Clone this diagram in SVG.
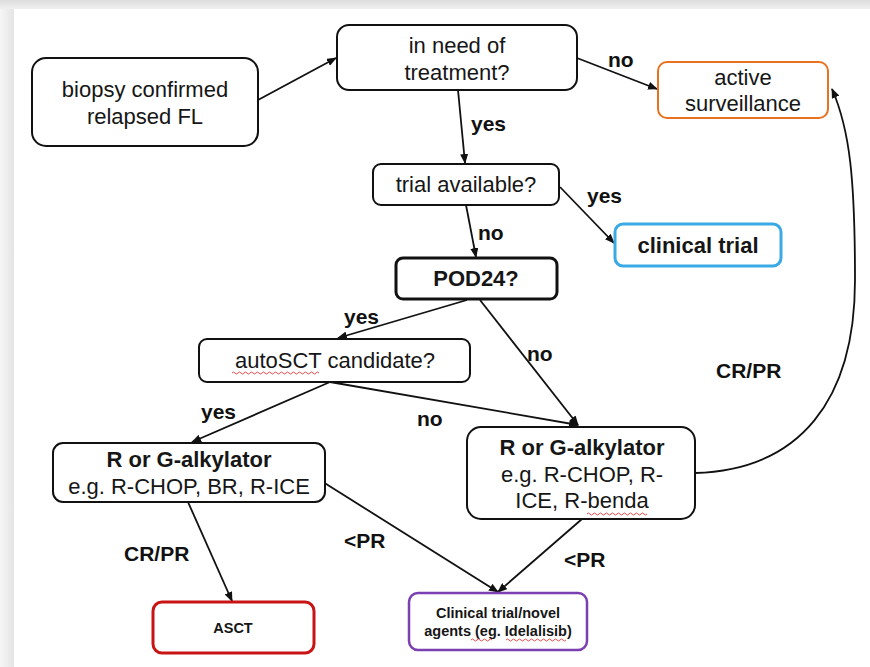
<svg xmlns="http://www.w3.org/2000/svg" width="870" height="667" viewBox="0 0 870 667">
  <defs>
    <linearGradient id="topShade" x1="0" y1="0" x2="0" y2="1">
      <stop offset="0" stop-color="#dcdcdc"/>
      <stop offset="1" stop-color="#f0f0f0"/>
    </linearGradient>
    <linearGradient id="leftShade" x1="0" y1="0" x2="1" y2="0">
      <stop offset="0" stop-color="#f6f6f6"/>
      <stop offset="1" stop-color="#e4e4e4"/>
    </linearGradient>
    <marker id="arrow" markerUnits="userSpaceOnUse" markerWidth="10" markerHeight="8" refX="9" refY="4" orient="auto">
      <path d="M0,0 L10,4 L0,8 Z" fill="#111"/>
    </marker>
    <style>
      .box { fill: #fff; stroke: #111; stroke-width: 2; }
      .t { font-family: "Liberation Sans", Arial, sans-serif; font-size: 22px; fill: #161616; text-anchor: middle; }
      .b { font-weight: bold; }
      .lbl { font-family: "Liberation Sans", Arial, sans-serif; font-size: 21px; font-weight: bold; fill: #111; }
      .small { font-size: 14.5px; }
      .edge { fill: none; stroke: #111; stroke-width: 1.8; marker-end: url(#arrow); }
      .line { fill: none; stroke: #111; stroke-width: 1.8; }
      .squiggle { fill: none; stroke: #e03a3a; stroke-width: 0.9; }
    </style>
  </defs>

  <!-- page background with soft shadow edges -->
  <rect x="0" y="0" width="870" height="667" fill="#f2f2f2"/>
  <rect x="0" y="0" width="870" height="9" fill="url(#topShade)"/>
  <rect x="0" y="9" width="14" height="658" fill="url(#leftShade)"/>
  <rect x="14" y="9" width="856" height="658" fill="#fff"/>

  <!-- connectors -->
  <g id="connectors">
    <path class="edge" d="M258,100 L336,58"/>
    <path class="edge" d="M577,58 L657,89"/>
    <path class="edge" d="M458,90 L465,163"/>
    <path class="edge" d="M560,187 L614,243"/>
    <path class="edge" d="M466,205 L476,257"/>
    <path class="edge" d="M467,300 L338,338"/>
    <path class="edge" d="M480,300 L578,425"/>
    <path class="edge" d="M330,382 L192,442"/>
    <path class="edge" d="M330,382 L578,425"/>
    <path class="edge" d="M188,502 L232,601"/>
    <path class="edge" d="M323,482 L498,592"/>
    <path class="edge" d="M582,519 L498,592"/>
    <path class="edge" d="M695,473 C800,470 855,400 855,280 C855,180 850,130 832,89"/>
  </g>

  <!-- connector labels -->
  <g id="edge-labels">
    <text class="lbl" x="608" y="67">no</text>
    <text class="lbl" x="471" y="131">yes</text>
    <text class="lbl" x="587" y="203">yes</text>
    <text class="lbl" x="478" y="240">no</text>
    <text class="lbl" x="344" y="324">yes</text>
    <text class="lbl" x="527" y="361">no</text>
    <text class="lbl" x="201" y="419">yes</text>
    <text class="lbl" x="417" y="426">no</text>
    <text class="lbl" x="716" y="378">CR/PR</text>
    <text class="lbl" x="124" y="561">CR/PR</text>
    <text class="lbl" x="344" y="548">&lt;PR</text>
    <text class="lbl" x="564" y="567">&lt;PR</text>
  </g>

  <g id="biopsy">
    <rect class="box" x="32" y="58" width="226" height="88" rx="14"/>
    <text class="t" x="145" y="97">biopsy confirmed</text>
    <text class="t" x="145" y="124">relapsed FL</text>
  </g>

  <g id="need-treatment">
    <rect class="box" x="337" y="25" width="240" height="65" rx="12"/>
    <text class="t" x="457" y="53">in need of</text>
    <text class="t" x="457" y="80">treatment?</text>
  </g>

  <g id="active-surveillance">
    <rect class="box" x="658" y="62" width="170" height="56" rx="9" style="stroke:#e8721e"/>
    <text class="t" x="743" y="85">active</text>
    <text class="t" x="743" y="111">surveillance</text>
  </g>

  <g id="trial-available">
    <rect class="box" x="373" y="164" width="186" height="41" rx="8"/>
    <text class="t" x="466" y="192">trial available?</text>
  </g>

  <g id="clinical-trial">
    <rect class="box" x="615" y="224" width="166" height="42" rx="8" style="stroke:#3aaae6;stroke-width:3"/>
    <text class="t b" x="698" y="253">clinical trial</text>
  </g>

  <g id="pod24">
    <rect class="box" x="396" y="258" width="161" height="41" rx="7" style="stroke-width:3"/>
    <text class="t b" x="476" y="286">POD24?</text>
  </g>

  <g id="autosct-candidate">
    <rect class="box" x="199" y="339" width="271" height="43" rx="8"/>
    <text class="t" x="335" y="368">autoSCT candidate?</text>
    <path class="squiggle" d="M232,373 q1.5,-2 3,0 t3,0 t3,0 t3,0 t3,0 t3,0 t3,0 t3,0 t3,0 t3,0 t3,0 t3,0 t3,0 t3,0 t3,0 t3,0 t3,0 t3,0 t3,0 t3,0 t3,0 t3,0 t3,0 t3,0 t3,0 t3,0 t3,0 t3,0 t3,0"/>
  </g>

  <g id="alkylator-left">
    <rect class="box" x="53" y="443" width="272" height="59" rx="10"/>
    <text class="t b" x="189" y="467">R or G-alkylator</text>
    <text class="t" x="189" y="494">e.g. R-CHOP, BR, R-ICE</text>
  </g>

  <g id="alkylator-right">
    <rect class="box" x="467" y="427" width="228" height="92" rx="14"/>
    <text class="t b" x="582" y="455">R or G-alkylator</text>
    <text class="t" x="582" y="482">e.g. R-CHOP, R-</text>
    <text class="t" x="582" y="508">ICE, R-benda</text>
    <path class="squiggle" d="M587,514 q1.5,-2 3,0 t3,0 t3,0 t3,0 t3,0 t3,0 t3,0 t3,0 t3,0 t3,0 t3,0 t3,0 t3,0 t3,0 t3,0 t3,0 t3,0 t3,0 t3,0 t3,0"/>
  </g>

  <g id="asct">
    <rect class="box" x="153" y="602" width="161" height="51" rx="9" style="stroke:#c81414;stroke-width:3"/>
    <text class="t b small" x="233" y="633">ASCT</text>
  </g>

  <g id="novel-agents">
    <rect class="box" x="409" y="593" width="178" height="57" rx="9" style="stroke:#7a3fb0;stroke-width:2.5"/>
    <text class="t b small" x="498" y="618">Clinical trial/novel</text>
    <text class="t b small" x="498" y="636">agents (eg. Idelalisib)</text>
    <path class="squiggle" d="M471,640 q1.5,-2 3,0 t3,0 t3,0 t3,0 t3,0 t3,0 t3,0"/>
    <path class="squiggle" d="M506,640 q1.5,-2 3,0 t3,0 t3,0 t3,0 t3,0 t3,0 t3,0 t3,0 t3,0 t3,0 t3,0 t3,0 t3,0 t3,0 t3,0 t3,0 t3,0 t3,0 t3,0 t3,0"/>
  </g>
</svg>
